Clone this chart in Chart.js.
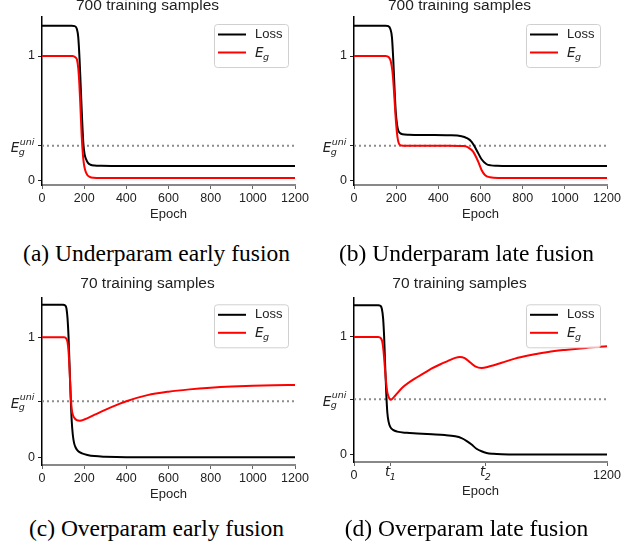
<!DOCTYPE html>
<html>
<head>
<meta charset="utf-8">
<script src="https://cdn.jsdelivr.net/npm/chart.js@4.4.0/dist/chart.umd.min.js"></script>
<style>
  body { margin: 0; background: #fff; }
  #wrap { position: relative; width: 635px; height: 550px; overflow: hidden; }
  canvas { position: absolute; }
  .cap { position: absolute; width: 317px; text-align: center; line-height: 27px;
         font-family: "Liberation Serif", "Times New Roman", serif; font-size: 23.5px; color: #000; }
</style>
</head>
<body>
<div id="wrap">
  <canvas id="chartA" width="317" height="228" style="left:0;top:0"></canvas>
  <canvas id="chartB" width="317" height="228" style="left:312px;top:0"></canvas>
  <canvas id="chartC" width="317" height="231" style="left:0;top:277px"></canvas>
  <canvas id="chartD" width="317" height="228" style="left:312px;top:277px"></canvas>
  <div class="cap" style="left:-2px;top:240px">(a) Underparam early fusion</div>
  <div class="cap" style="left:308px;top:240px">(b) Underparam late fusion</div>
  <div class="cap" style="left:-2px;top:515px">(c) Overparam early fusion</div>
  <div class="cap" style="left:308px;top:515px">(d) Overparam late fusion</div>
</div>
<script>
// ---- data ----
const titleTop = "700 training samples";
const titleBottom = "70 training samples";
const xTicks = [0, 200, 400, 600, 800, 1000, 1200];

// (a) underparam, early fusion
const lossEpochsA = [0, 140, 155, 165, 172, 178, 184, 190, 196, 202, 209, 218, 230, 250, 280, 330, 1200];
const lossA = [1.244, 1.244, 1.24, 1.22, 1.15, 0.98, 0.74, 0.5, 0.3, 0.21, 0.17, 0.14, 0.125, 0.118, 0.116, 0.115, 0.115];
const egEpochsA = [0, 145, 158, 166, 172, 177, 182, 187, 192, 198, 205, 214, 226, 245, 275, 1200];
const egA = [1, 1, 0.99, 0.97, 0.9, 0.78, 0.6, 0.4, 0.25, 0.14, 0.08, 0.045, 0.028, 0.02, 0.018, 0.018];
const egUniA = 0.278;

// (b) underparam, late fusion
const lossEpochsB = [0, 150, 163, 172, 180, 186, 192, 198, 204, 210, 218, 230, 260, 350, 450, 510, 535, 558, 581, 605, 629, 650, 680, 720, 1200];
const lossB = [1.244, 1.244, 1.24, 1.22, 1.15, 0.98, 0.75, 0.55, 0.45, 0.4, 0.38, 0.37, 0.366, 0.364, 0.362, 0.355, 0.34, 0.31, 0.244, 0.169, 0.129, 0.12, 0.117, 0.115, 0.115];
const egEpochsB = [0, 150, 165, 174, 182, 188, 194, 200, 206, 212, 218, 226, 240, 300, 450, 520, 541, 565, 589, 605, 621, 645, 685, 1200];
const egB = [1, 1, 0.99, 0.96, 0.88, 0.76, 0.6, 0.45, 0.35, 0.3, 0.285, 0.28, 0.278, 0.278, 0.278, 0.276, 0.265, 0.23, 0.15, 0.083, 0.043, 0.024, 0.018, 0.018];
const egUniB = 0.278;

// (c) overparam, early fusion
const lossEpochsC = [0, 100, 110, 116, 121, 126, 131, 136, 141, 146, 152, 160, 172, 190, 215, 250, 300, 400, 1200];
const lossC = [1.27, 1.27, 1.265, 1.24, 1.16, 1.0, 0.75, 0.5, 0.3, 0.19, 0.12, 0.08, 0.05, 0.033, 0.02, 0.01, 0.005, 0.001, 0];
const egEpochsC = [0, 105, 115, 121, 126, 131, 136, 141, 147, 155, 165, 180, 200, 250, 300, 350, 400, 500, 600, 700, 800, 900, 1000, 1100, 1200];
const egC = [1, 1, 0.99, 0.96, 0.88, 0.72, 0.52, 0.4, 0.35, 0.325, 0.31, 0.305, 0.315, 0.355, 0.395, 0.433, 0.467, 0.518, 0.547, 0.566, 0.58, 0.59, 0.597, 0.601, 0.603];
const egUniC = 0.467;

// (d) overparam, late fusion
const lossEpochsD = [0, 115, 125, 132, 138, 143, 148, 153, 158, 164, 172, 185, 205, 250, 300, 370, 430, 480, 510, 535, 558, 581, 605, 629, 660, 700, 800, 1200];
const lossD = [1.27, 1.27, 1.265, 1.24, 1.16, 1.0, 0.75, 0.52, 0.36, 0.28, 0.235, 0.21, 0.195, 0.185, 0.18, 0.173, 0.166, 0.155, 0.14, 0.115, 0.085, 0.05, 0.028, 0.014, 0.007, 0.003, 0.001, 0];
const egEpochsD = [0, 115, 127, 134, 140, 146, 152, 158, 164, 170, 175, 182, 195, 230, 288, 330, 367, 410, 446, 480, 502, 525, 550, 575, 605, 640, 700, 763, 850, 921, 1000, 1100, 1200];
const egD = [1, 1, 0.99, 0.96, 0.88, 0.75, 0.62, 0.53, 0.49, 0.472, 0.466, 0.475, 0.5, 0.57, 0.646, 0.69, 0.73, 0.768, 0.796, 0.822, 0.83, 0.82, 0.785, 0.75, 0.736, 0.748, 0.78, 0.816, 0.85, 0.873, 0.89, 0.907, 0.92];
const egUniD = 0.47;
const tMarks = [174, 624]; // t1, t2

Chart.defaults.font.family = '"Liberation Sans", Arial, sans-serif';
Chart.defaults.color = '#222';

const toPts = (xs, ys) => xs.map((x, i) => ({ x: x, y: ys[i] }));

// italic symbol with a subscript (and optional superscript), mathtext-like
function drawMath(ctx, x, y, main, sub, sup, align, subDy) {
  ctx.save();
  ctx.fillStyle = '#222';
  ctx.textBaseline = 'alphabetic';
  ctx.textAlign = 'left';
  const big = 'italic 13.5px "DejaVu Sans"', small = 'italic 9.5px "DejaVu Sans"';
  ctx.font = big;
  const wm = ctx.measureText(main).width;
  ctx.font = small;
  const ws = Math.max(ctx.measureText(sub).width, sup ? ctx.measureText(sup).width : 0);
  let x0 = x;
  if (align === 'right') x0 = x - wm - ws - 0.5;
  if (align === 'center') x0 = x - (wm + ws) / 2;
  ctx.font = big;
  ctx.fillText(main, x0, y);
  ctx.font = small;
  ctx.fillText(sub, x0 + wm - 0.5, y + (subDy || 2.5));
  if (sup) ctx.fillText(sup, x0 + wm + 0.5, y - 7.5);
  ctx.restore();
}

const extras = {
  id: 'extras',
  afterDraw(chart, args, opts) {
    const ctx = chart.ctx, a = chart.chartArea;
    // E_g^uni tick label
    const yu = chart.scales.y.getPixelForValue(opts.egUni);
    drawMath(ctx, a.left - 7.5, yu + 6.5, 'E', 'g', 'uni', 'right');
    // t1 / t2 tick labels
    if (opts.tLabels) {
      opts.tLabels.forEach((t, i) => {
        const xp = chart.scales.x.getPixelForValue(t);
        drawMath(ctx, xp, a.bottom + 14, 't', String(i + 1), null, 'center', 3.5);
      });
    }
    // legend box
    const bw = 74, bh = 43;
    const bx = a.right - 7 - bw, by = a.top + 7;
    ctx.save();
    ctx.beginPath();
    ctx.roundRect(bx + 0.5, by + 0.5, bw, bh, 3);
    ctx.fillStyle = 'rgba(255,255,255,0.85)';
    ctx.fill();
    ctx.strokeStyle = '#d0d0d0';
    ctx.lineWidth = 1;
    ctx.stroke();
    const y1 = by + 10.5, y2 = by + 28.5;
    ctx.lineWidth = 2;
    ctx.strokeStyle = '#000';
    ctx.beginPath(); ctx.moveTo(bx + 4, y1); ctx.lineTo(bx + 32, y1); ctx.stroke();
    ctx.strokeStyle = '#ff0000';
    ctx.beginPath(); ctx.moveTo(bx + 4, y2); ctx.lineTo(bx + 32, y2); ctx.stroke();
    ctx.fillStyle = '#222';
    ctx.font = '13px "Liberation Sans"';
    ctx.textBaseline = 'middle';
    ctx.fillText('Loss', bx + 41, y1);
    ctx.restore();
    drawMath(ctx, bx + 41, y2 + 4.5, 'E', 'g', null, 'left');
  }
};

function makePanel(id, title, lossX, lossY, egX, egY, egUni, yMin, yMax, titlePad, tLabels) {
  const tickFont = { size: 12.5 };
  new Chart(document.getElementById(id), {
    type: 'line',
    data: {
      datasets: [
        { data: toPts(egX, egY), borderColor: '#ff0000', borderWidth: 2, pointRadius: 0, cubicInterpolationMode: 'monotone' },
        { data: toPts(lossX, lossY), borderColor: '#000', borderWidth: 2, pointRadius: 0, cubicInterpolationMode: 'monotone' },
        { data: [{ x: 0, y: egUni }, { x: 1200, y: egUni }], borderColor: '#8c8c8c', borderWidth: 2, borderDash: [2, 3], pointRadius: 0 }
      ]
    },
    options: {
      responsive: false,
      animation: false,
      events: [],
      layout: { padding: { left: 0, right: 22, top: 0, bottom: 0 } },
      plugins: {
        legend: { display: false },
        tooltip: { enabled: false },
        title: { display: true, text: title, color: '#222', font: { size: 15.5, weight: 'normal' }, padding: titlePad },
        extras: { egUni: egUni, tLabels: tLabels }
      },
      scales: {
        x: {
          type: 'linear', min: 0, max: 1200,
          afterBuildTicks: s => {
            const vals = tLabels ? [0, tLabels[0], tLabels[1], 1200] : xTicks;
            s.ticks = vals.map(v => ({ value: v }));
          },
          afterFit: s => { s.height = 43; },
          ticks: {
            autoSkip: false, maxRotation: 0, padding: 2, font: tickFont, color: '#222',
            callback: v => (tLabels && tLabels.includes(v)) ? '' : String(v)
          },
          grid: { drawOnChartArea: false, drawTicks: true, tickLength: 4, tickColor: '#666', tickWidth: 1 },
          border: { display: true, color: '#888', width: 2 },
          title: { display: true, text: 'Epoch', color: '#222', font: { size: 13 }, padding: { top: 0, bottom: 6.2 } }
        },
        y: {
          min: yMin, max: yMax,
          afterBuildTicks: s => { s.ticks = [0, egUni, 1].map(v => ({ value: v })); },
          afterFit: s => { s.width = 42; },
          ticks: {
            padding: 3, font: tickFont, color: '#222',
            callback: v => (v === egUni ? '' : String(v))
          },
          grid: { drawOnChartArea: false, drawTicks: true, tickLength: 4, tickColor: '#222', tickWidth: 1 },
          border: { display: true, color: '#000', width: 1.5 }
        }
      }
    },
    plugins: [extras]
  });
}

makePanel('chartA', titleTop, lossEpochsA, lossA, egEpochsA, egA, egUniA, -0.038, 1.314, { top: -3.3, bottom: 1.7 }, null);
makePanel('chartB', titleTop, lossEpochsB, lossB, egEpochsB, egB, egUniB, -0.038, 1.314, { top: -3.3, bottom: 1.7 }, null);
makePanel('chartC', titleBottom, lossEpochsC, lossC, egEpochsC, egC, egUniC, -0.064, 1.333, { top: -2.3, bottom: 4 }, null);
makePanel('chartD', titleBottom, lossEpochsD, lossD, egEpochsD, egD, egUniD, -0.063, 1.337, { top: -2.3, bottom: 4 }, tMarks);
</script>
</body>
</html>
